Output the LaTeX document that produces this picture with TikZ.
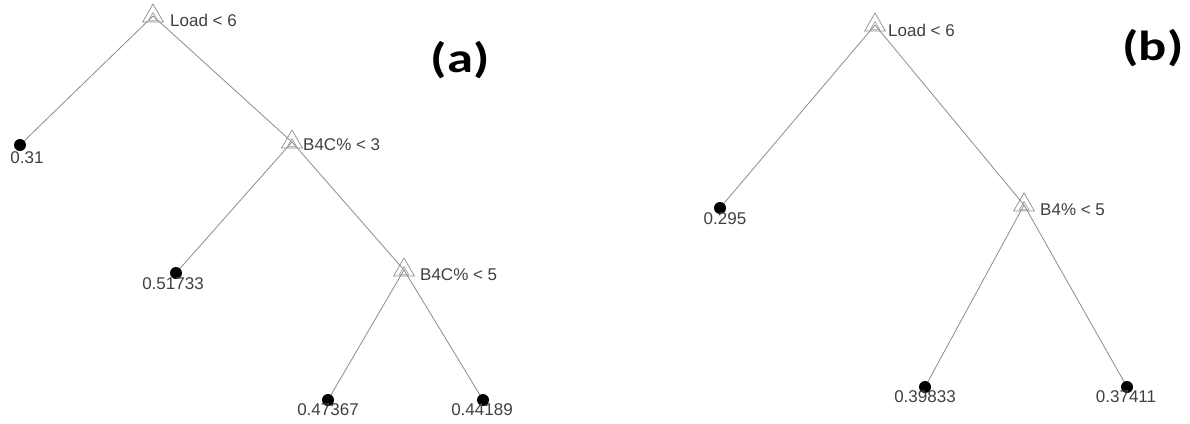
\documentclass[tikz,border=0pt]{standalone}
\usepackage{fontspec}
\setmainfont{Liberation Sans}
\newfontfamily\labfont{Carlito}
\usetikzlibrary{shapes.geometric,backgrounds}
\begin{document}
\begin{tikzpicture}[x=1pt,y=-1pt,
  edge/.style={draw=black!45, line width=0.8pt},
  split/.style={regular polygon, regular polygon sides=3, draw=black!45, line width=0.7pt, inner sep=0pt, minimum size=24pt},
  splitin/.style={regular polygon, regular polygon sides=3, draw=black!40, line width=0.6pt, inner sep=0pt, minimum size=11pt},
  leafdot/.style={circle, fill=black, inner sep=0pt, minimum size=12pt},
  txt/.style={inner sep=0pt, text=black!75, font=\fontsize{17}{20}\selectfont},
  panel/.style={inner sep=0pt, font=\labfont\bfseries\fontsize{42}{46}\selectfont, xscale=1.25}
]
\useasboundingbox (0,0) rectangle (1190,423);
% ---------- (a)
\node[split] (ar) at (153,16) {};
\node[splitin] at (153,18) {};
\node[split] (a1) at (292,142) {};
\node[splitin] at (292,144) {};
\node[split] (a2) at (404,270) {};
\node[splitin] at (404,272) {};
\node[leafdot] (l1) at (20,145) {};
\node[leafdot] (l2) at (176,273) {};
\node[leafdot] (l3) at (328,400) {};
\node[leafdot] (l4) at (483,400) {};
\node[txt, anchor=west] (tar) at (170,20) {Load < 6};
\node[txt, anchor=west] (ta1) at (303,145) {B4C\% < 3};
\node[txt, anchor=west] (ta2) at (420,275) {B4C\% < 5};
\node[txt] (tl1) at (27,158) {0.31};
\node[txt] (tl2) at (173,284) {0.51733};
\node[txt] (tl3) at (328,410) {0.47367};
\node[txt] (tl4) at (482,410) {0.44189};
\node[panel] (pa) at (460,60) {(a)};
% ---------- (b)
\node[split] (br) at (875,25) {};
\node[splitin] at (875,27) {};
\node[split] (b1) at (1024,205) {};
\node[splitin] at (1024,207) {};
\node[leafdot] (m1) at (720,208) {};
\node[leafdot] (m2) at (925,387) {};
\node[leafdot] (m3) at (1127,387) {};
\node[txt, anchor=west] (tbr) at (888,30) {Load < 6};
\node[txt, anchor=west] (tb1) at (1040,210) {B4\% < 5};
\node[txt] (tm1) at (725,219) {0.295};
\node[txt] (tm2) at (925,397) {0.39833};
\node[txt] (tm3) at (1126,397) {0.37411};
\node[panel] (pb) at (1153,48) {(b)};
\begin{scope}[on background layer]
\draw[edge] (l1.center) -- (ar.center) -- (a1.center) -- (a2.center) -- (l4.center);
\draw[edge] (a1.center) -- (l2.center);
\draw[edge] (a2.center) -- (l3.center);
\draw[edge] (m1.center) -- (br.center) -- (b1.center) -- (m3.center);
\draw[edge] (b1.center) -- (m2.center);
\end{scope}
\end{tikzpicture}
\end{document}
